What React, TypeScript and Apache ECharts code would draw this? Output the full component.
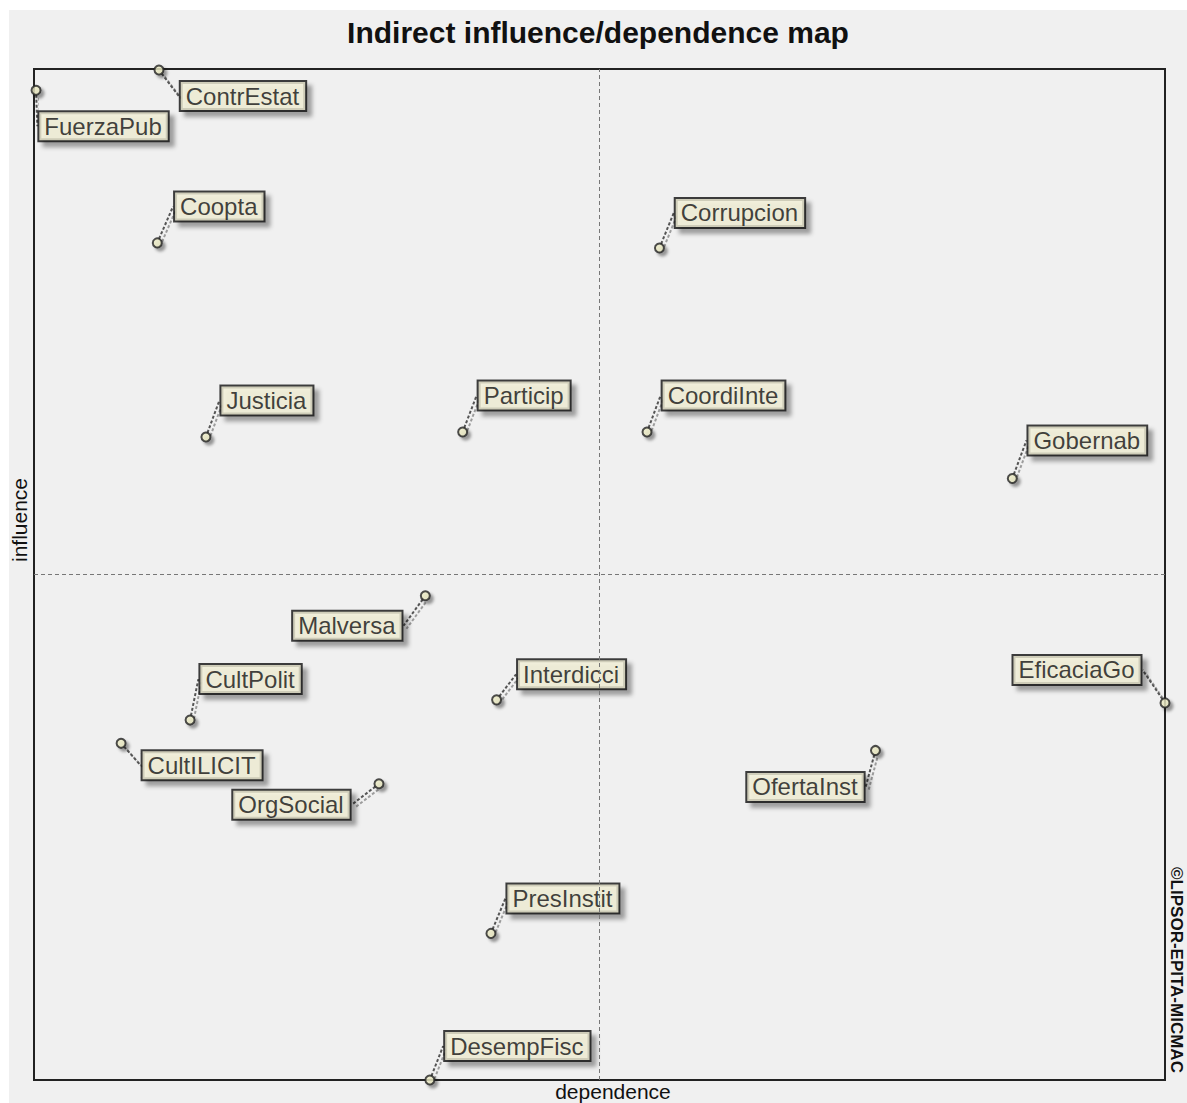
import React, { useEffect, useRef } from "react";
import * as echarts from "echarts";

const variables = [
  "ContrEstat", "FuerzaPub", "Coopta", "Corrupcion", "Justicia", "Particip",
  "CoordiInte", "Gobernab", "Malversa", "CultPolit", "Interdicci", "EficaciaGo",
  "CultILICIT", "OrgSocial", "OfertaInst", "PresInstit", "DesempFisc",
];
const dependence = [11.05, 0.18, 10.9, 55.3, 15.2, 37.9, 54.2, 86.5, 34.6, 13.8, 40.9, 100, 7.7, 30.5, 74.4, 40.4, 35.0];
const influence = [99.9, 97.9, 82.8, 82.3, 63.6, 64.1, 64.1, 59.5, 47.9, 35.6, 37.6, 37.3, 33.3, 29.3, 32.6, 14.5, 0];

// label displacement (px) from each point
const labelOffsets: [number, number][] = [
  [84, 26], [67.5, 36], [62, -36.5], [80.5, -35], [61, -36.5], [61.5, -36.5],
  [76.5, -36.5], [75, -38], [-78, 30], [60.5, -41], [75, -25.5], [-88, -33],
  [81, 22], [-87.5, 21], [-70, 36.5], [72, -35], [87.5, -34],
];

const TITLE = "Indirect influence/dependence map";
const X_NAME = "dependence";
const Y_NAME = "influence";
const COPYRIGHT = "©LIPSOR-EPITA-MICMAC";

export default function App() {
  const ref = useRef<HTMLDivElement>(null);
  useEffect(() => {
    if (!ref.current) return;
    const chart = echarts.init(ref.current, null, { renderer: "svg" });
    const font = "'Liberation Sans', Arial, sans-serif";
    chart.setOption({
      animation: false,
      backgroundColor: "#ffffff",
      grid: {
        left: 34, top: 69, right: 22, bottom: 23,
        show: true, borderColor: "#222", borderWidth: 2, backgroundColor: "transparent",
      },
      xAxis: {
        type: "value", min: 0, max: 100,
        axisLine: { show: false }, axisTick: { show: false },
        axisLabel: { show: false }, splitLine: { show: false },
      },
      yAxis: {
        type: "value", min: 0, max: 100,
        axisLine: { show: false }, axisTick: { show: false },
        axisLabel: { show: false }, splitLine: { show: false },
      },
      graphic: [
        {
          type: "rect", z: -100, silent: true,
          shape: { x: 9, y: 10, width: 1178, height: 1093 },
          style: { fill: "#f0f0f0" },
        },
        {
          type: "text", x: 598, y: 32,
          style: { text: TITLE, fontFamily: font, fontSize: 30, fontWeight: "bold", fill: "#111", textAlign: "center", textVerticalAlign: "middle" },
        },
        {
          type: "text", x: 19, y: 520, rotation: Math.PI / 2,
          style: { text: Y_NAME, fontFamily: font, fontSize: 21, fill: "#111", textAlign: "center", textVerticalAlign: "middle" },
        },
        {
          type: "text", x: 613, y: 1091,
          style: { text: X_NAME, fontFamily: font, fontSize: 21, fill: "#111", textAlign: "center", textVerticalAlign: "middle" },
        },
        {
          type: "text", x: 1176, y: 970, rotation: -Math.PI / 2,
          style: { text: COPYRIGHT, fontFamily: font, fontSize: 17, fontWeight: "bold", fill: "#111", textAlign: "center", textVerticalAlign: "middle" },
        },
      ],
      series: [
        {
          type: "scatter",
          clip: false,
          symbol: "circle",
          symbolSize: 9,
          itemStyle: {
            color: "#ecebc4", borderColor: "#222", borderWidth: 2,
            shadowColor: "rgba(0,0,0,0.45)", shadowBlur: 3, shadowOffsetX: 3, shadowOffsetY: 3,
          },
          data: variables.map((n, i) => ({ name: n, value: [dependence[i], influence[i]] })),
          label: {
            show: true,
            position: "inside",
            formatter: "{b}",
            fontFamily: font,
            fontSize: 24,
            lineHeight: 26,
            color: "#111",
            backgroundColor: "#f5f3d9",
            borderColor: "#111",
            borderWidth: 2,
            padding: [1, 6, 1, 5],
            shadowColor: "rgba(0,0,0,0.4)",
            shadowBlur: 4,
            shadowOffsetX: 5,
            shadowOffsetY: 5,
          },
          labelLayout: (p: any) => ({ dx: labelOffsets[p.dataIndex][0], dy: labelOffsets[p.dataIndex][1] }),
          labelLine: {
            show: true,
            lineStyle: {
              color: "#555", width: 2, type: [3, 2],
              shadowColor: "rgba(0,0,0,0.35)", shadowBlur: 1, shadowOffsetX: 3, shadowOffsetY: 3,
            },
          },
          markLine: {
            silent: true,
            symbol: "none",
            label: { show: false },
            lineStyle: { color: "#777", width: 1, type: [4, 3] },
            data: [{ xAxis: 50 }, { yAxis: 50 }],
          },
          z: 3,
        },
      ],
    });
    return () => chart.dispose();
  }, []);
  return (
    <div
      ref={ref}
      style={{ position: "absolute", left: 0, top: 0, width: 1187, height: 1103 }}
    />
  );
}
